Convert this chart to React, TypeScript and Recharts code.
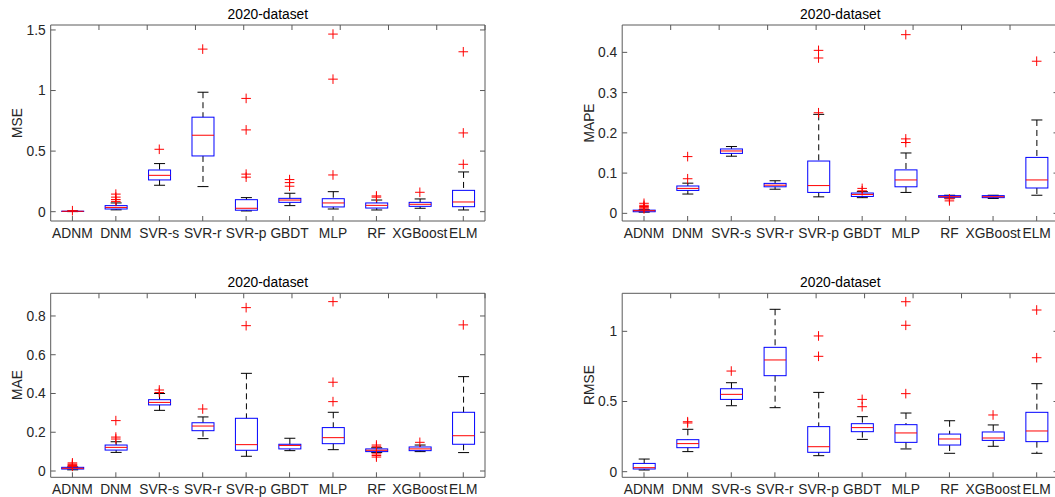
import React from 'react';
import { ComposedChart, Bar, Scatter, XAxis, YAxis } from 'recharts';

// ---------- data ----------
const METHODS = ['ADNM', 'DNM', 'SVR-s', 'SVR-r', 'SVR-p', 'GBDT', 'MLP', 'RF', 'XGBoost', 'ELM'];
const CATEGORY_IDX = [1, 2, 3, 4, 5, 6, 7, 8, 9, 10];
const TITLE = '2020-dataset';

// each row: [lower whisker, Q1, median, Q3, upper whisker]
const MSE_BOXES = [
  [0.0005, 0.002, 0.003, 0.004, 0.006],
  [0.015, 0.022, 0.035, 0.05, 0.072],
  [0.218, 0.262, 0.3, 0.344, 0.397],
  [0.207, 0.46, 0.631, 0.78, 0.986],
  [0.006, 0.012, 0.028, 0.099, 0.116],
  [0.05, 0.077, 0.096, 0.11, 0.152],
  [0.022, 0.039, 0.072, 0.107, 0.165],
  [0.014, 0.03, 0.052, 0.072, 0.096],
  [0.028, 0.044, 0.061, 0.077, 0.105],
  [0.014, 0.041, 0.08, 0.176, 0.328],
];
const MSE_OUTLIERS = [
  [0.008],
  [0.085, 0.1, 0.12, 0.145],
  [0.515],
  [1.342],
  [0.285, 0.31, 0.675, 0.935],
  [0.21, 0.24, 0.265],
  [0.303, 1.094, 1.466],
  [0.12, 0.13],
  [0.16],
  [0.391, 0.65, 1.32],
];
const MSE_TICKS = [0, 0.5, 1, 1.5];

const MAPE_BOXES = [
  [0.003, 0.004, 0.0066, 0.008, 0.009],
  [0.048, 0.057, 0.062, 0.068, 0.075],
  [0.142, 0.149, 0.155, 0.16, 0.166],
  [0.06, 0.066, 0.07, 0.0745, 0.081],
  [0.041, 0.052, 0.069, 0.13, 0.246],
  [0.039, 0.042, 0.047, 0.0505, 0.054],
  [0.052, 0.066, 0.083, 0.108, 0.15],
  [0.038, 0.04, 0.0414, 0.044, 0.045],
  [0.037, 0.039, 0.0414, 0.044, 0.045],
  [0.045, 0.063, 0.083, 0.139, 0.232],
];
const MAPE_OUTLIERS = [
  [0.011, 0.014, 0.017, 0.02, 0.025],
  [0.086, 0.141],
  [],
  [],
  [0.25, 0.386, 0.405],
  [0.056, 0.062],
  [0.176, 0.185, 0.444],
  [0.031, 0.036],
  [],
  [0.378],
];
const MAPE_TICKS = [0, 0.1, 0.2, 0.3, 0.4];

const MAE_BOXES = [
  [0.006, 0.01, 0.014, 0.019, 0.021],
  [0.096, 0.108, 0.122, 0.134, 0.151],
  [0.313, 0.341, 0.354, 0.368, 0.4],
  [0.167, 0.208, 0.232, 0.249, 0.279],
  [0.076, 0.107, 0.136, 0.272, 0.504],
  [0.105, 0.114, 0.132, 0.138, 0.169],
  [0.11, 0.141, 0.172, 0.224, 0.303],
  [0.095, 0.1, 0.107, 0.114, 0.12],
  [0.1, 0.105, 0.114, 0.124, 0.134],
  [0.095, 0.138, 0.182, 0.303, 0.487],
];
const MAE_OUTLIERS = [
  [0.024, 0.028, 0.032, 0.036, 0.042],
  [0.165, 0.175, 0.26],
  [0.405, 0.418],
  [0.32],
  [0.75, 0.843],
  [],
  [0.358, 0.458, 0.874],
  [0.072, 0.08, 0.088, 0.125, 0.134],
  [0.148],
  [0.754],
];
const MAE_TICKS = [0, 0.2, 0.4, 0.6, 0.8];

const RMSE_BOXES = [
  [0.012, 0.019, 0.0285, 0.059, 0.09],
  [0.143, 0.171, 0.2, 0.228, 0.302],
  [0.47, 0.515, 0.551, 0.591, 0.634],
  [0.456, 0.684, 0.796, 0.886, 1.157],
  [0.114, 0.138, 0.178, 0.321, 0.565],
  [0.23, 0.285, 0.314, 0.342, 0.392],
  [0.162, 0.209, 0.276, 0.335, 0.418],
  [0.131, 0.19, 0.233, 0.268, 0.363],
  [0.181, 0.223, 0.24, 0.283, 0.333],
  [0.131, 0.214, 0.29, 0.423, 0.627],
];
const RMSE_OUTLIERS = [
  [],
  [0.347, 0.356],
  [0.717],
  [],
  [0.822, 0.967],
  [0.463, 0.515],
  [0.556, 1.043, 1.211],
  [],
  [0.404],
  [0.812, 1.152],
];
const RMSE_TICKS = [0, 0.5, 1];

// ---------- styles ----------
const FONT = '"Liberation Sans", Arial, Helvetica, sans-serif';
const AXIS = '#5a5a5a';
const TEXT = '#262626';
const BLUE = '#0000ff';
const RED = '#ff0000';
const FS = 13.8;

function BoxShape(props: any) {
  const { x, y, width, height, payload } = props;
  if (!payload) return null;
  const { wlo, q1, med, q3, whi } = payload;
  const span = whi - wlo;
  const py = (v: number) => y + (height * (whi - v)) / span;
  const cx = x + width / 2;
  const cap = width / 4;
  const top = Math.min(py(q3), py(q1));
  const bh = Math.abs(py(q1) - py(q3));
  return (
    <g>
      <line x1={cx} x2={cx} y1={py(whi)} y2={py(q3)} stroke="#000" strokeWidth={1} strokeDasharray="6 4" />
      <line x1={cx} x2={cx} y1={py(q1)} y2={py(wlo)} stroke="#000" strokeWidth={1} strokeDasharray="6 4" />
      <line x1={cx - cap} x2={cx + cap} y1={py(whi)} y2={py(whi)} stroke="#000" strokeWidth={1} />
      <line x1={cx - cap} x2={cx + cap} y1={py(wlo)} y2={py(wlo)} stroke="#000" strokeWidth={1} />
      <rect x={x} y={top} width={width} height={bh} fill="none" stroke={BLUE} strokeWidth={1} />
      <line x1={x} x2={x + width} y1={py(med)} y2={py(med)} stroke={RED} strokeWidth={1} />
    </g>
  );
}

function Plus(props: any) {
  const { cx, cy } = props;
  if (cx == null || cy == null) return null;
  const s = 4.8;
  return (
    <path d={`M${cx - s},${cy}H${cx + s}M${cx},${cy - s}V${cy + s}`} stroke={RED} strokeWidth={1} fill="none" />
  );
}

type PanelCfg = {
  ylabel: string;
  boxes: number[][];
  outliers: number[][];
  ticks: number[];
  domain: [number, number];
  left: number;
  top: number;
  width: number;
  height: number;
  topH: number;
  bottomH: number;
  leftW: number;
  rightW: number;
  titleY: number;
  labelX: number;
};

function Panel({ cfg }: { cfg: PanelCfg }) {
  const rows = METHODS.map((name, i) => {
    const [wlo, q1, med, q3, whi] = cfg.boxes[i];
    return { idx: CATEGORY_IDX[i], name, wlo, q1, med, q3, whi, span: [wlo, whi] };
  });
  const pts = cfg.outliers.flatMap((arr, i) => arr.map((v) => ({ idx: CATEGORY_IDX[i], val: v })));
  const plotLeft = cfg.left + cfg.leftW;
  const plotRight = cfg.left + cfg.width - cfg.rightW;
  const plotTop = cfg.top + cfg.topH;
  const plotBottom = cfg.top + cfg.height - cfg.bottomH;
  const tickStyle = { fill: TEXT, fontSize: FS, fontFamily: FONT };
  return (
    <>
      <div style={{ position: 'absolute', left: cfg.left, top: cfg.top, width: cfg.width, height: cfg.height }}>
        <ComposedChart width={cfg.width} height={cfg.height} data={rows} margin={{ top: 0, right: 0, bottom: 0, left: 0 }}>
          <XAxis
            dataKey="idx"
            type="number"
            domain={[0.5, 10.5]}
            allowDataOverflow
            ticks={CATEGORY_IDX}
            interval={0}
            tickFormatter={(v: number) => METHODS[v - 1] ?? ''}
            tickSize={-5}
            tickMargin={12}
            height={cfg.bottomH}
            stroke={AXIS}
            tick={tickStyle}
          />
          <XAxis
            xAxisId="top"
            orientation="top"
            type="number"
            domain={[0.5, 10.5]}
            allowDataOverflow
            ticks={CATEGORY_IDX}
            interval={0}
            tickFormatter={() => ''}
            tickSize={-5}
            height={cfg.topH}
            stroke={AXIS}
            tick={tickStyle}
          />
          <YAxis
            type="number"
            domain={cfg.domain}
            allowDataOverflow
            ticks={cfg.ticks}
            interval={0}
            tickFormatter={(v: number) => String(v)}
            tickSize={-5}
            tickMargin={10}
            width={cfg.leftW}
            stroke={AXIS}
            tick={tickStyle}
          />
          <YAxis
            yAxisId="right"
            orientation="right"
            type="number"
            domain={cfg.domain}
            allowDataOverflow
            ticks={cfg.ticks}
            interval={0}
            tickFormatter={() => ''}
            tickSize={-5}
            width={cfg.rightW}
            stroke={AXIS}
            tick={tickStyle}
          />
          <Bar dataKey="span" barSize={22} shape={BoxShape} isAnimationActive={false} />
          <Scatter data={pts} dataKey="val" shape={Plus} isAnimationActive={false} />
        </ComposedChart>
      </div>
      <div
        style={{
          position: 'absolute',
          left: (plotLeft + plotRight) / 2,
          top: cfg.titleY,
          transform: 'translate(-50%, -50%)',
          fontFamily: FONT,
          fontSize: FS,
          color: '#000',
          whiteSpace: 'nowrap',
          lineHeight: 1,
        }}
      >
        {TITLE}
      </div>
      <div
        style={{
          position: 'absolute',
          left: cfg.labelX,
          top: (plotTop + plotBottom) / 2,
          transform: 'translate(-50%, -50%) rotate(-90deg)',
          fontFamily: FONT,
          fontSize: FS,
          color: TEXT,
          whiteSpace: 'nowrap',
          lineHeight: 1,
        }}
      >
        {cfg.ylabel}
      </div>
    </>
  );
}

const PANELS: PanelCfg[] = [
  {
    ylabel: 'MSE', boxes: MSE_BOXES, outliers: MSE_OUTLIERS, ticks: MSE_TICKS, domain: [-0.077, 1.541],
    left: 0, top: 0, width: 530, height: 250, topH: 25, bottomH: 29, leftW: 50.7, rightW: 45, titleY: 15, labelX: 18,
  },
  {
    ylabel: 'MAPE', boxes: MAPE_BOXES, outliers: MAPE_OUTLIERS, ticks: MAPE_TICKS, domain: [-0.019, 0.468],
    left: 530, top: 0, width: 535, height: 250, topH: 25, bottomH: 29, leftW: 92.2, rightW: 6.5, titleY: 15, labelX: 590,
  },
  {
    ylabel: 'MAE', boxes: MAE_BOXES, outliers: MAE_OUTLIERS, ticks: MAE_TICKS, domain: [-0.0325, 0.917],
    left: 0, top: 250, width: 530, height: 247, topH: 43.3, bottomH: 19.7, leftW: 50.7, rightW: 45, titleY: 283, labelX: 18,
  },
  {
    ylabel: 'RMSE', boxes: RMSE_BOXES, outliers: RMSE_OUTLIERS, ticks: RMSE_TICKS, domain: [-0.04, 1.271],
    left: 530, top: 250, width: 535, height: 247, topH: 43.3, bottomH: 19.7, leftW: 92.2, rightW: 6.5, titleY: 283, labelX: 590,
  },
];

export default function App() {
  return (
    <div
      style={{
        position: 'absolute',
        left: 0,
        top: 0,
        width: 1055,
        height: 497,
        overflow: 'hidden',
        background: '#fff',
      }}
    >
      {PANELS.map((p) => (
        <Panel key={p.ylabel} cfg={p} />
      ))}
    </div>
  );
}
